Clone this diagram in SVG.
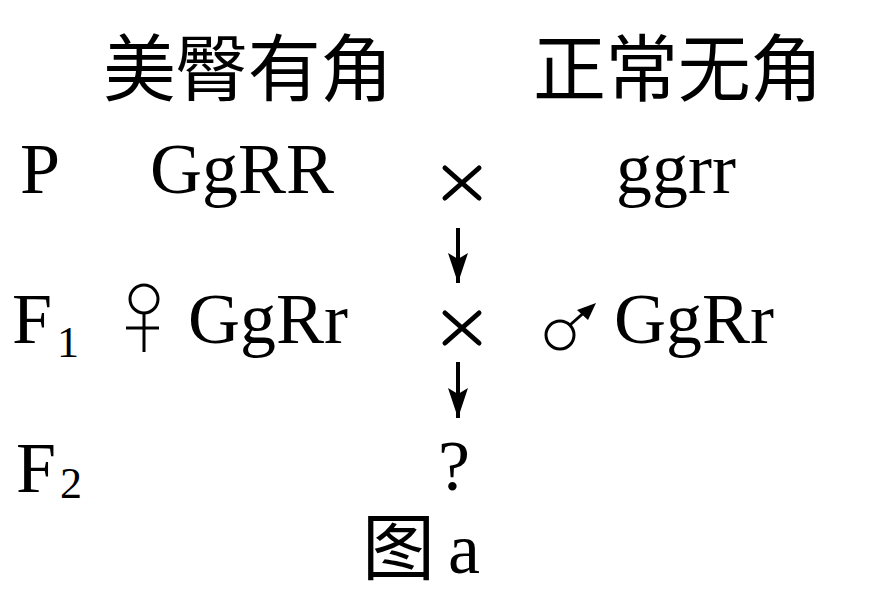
<svg xmlns="http://www.w3.org/2000/svg" width="872" height="590" viewBox="0 0 872 590">
<style>
.t{font-family:"Liberation Serif","Times New Roman",serif;font-size:72px;fill:#000}
.c{font-family:"Liberation Serif","Noto Sans CJK SC",serif;font-size:73px;fill:#000}
.s{font-family:"Liberation Serif",serif;font-size:44px;fill:#000}
.ln{stroke:#000;stroke-width:3;fill:none}
.sh{stroke:#000;stroke-width:4;fill:none}
.x{stroke:#000;stroke-width:5;fill:none;stroke-linecap:round}
</style>
<defs>
<marker id="ah" markerWidth="30" markerHeight="20" refX="30" refY="10" orient="auto" markerUnits="userSpaceOnUse" viewBox="0 0 30 20">
<path d="M0,0 L30,10 L0,20 L6,10 Z" fill="#000"/>
</marker>
</defs>
<rect width="872" height="590" fill="#fff"/>
<g id="title-left"><text class="c" x="103" y="95" textLength="290">美臀有角</text></g>
<g id="title-right"><text class="c" x="533" y="95" textLength="290">正常无角</text></g>
<g id="row-p">
<text class="t" x="20" y="193">P</text>
<text class="t" x="150" y="193">GgRR</text>
<text class="t" x="616" y="193">ggrr</text>
</g>
<g id="cross-1"><path class="x" d="M445,168 L479,198 M479,168 L445,198"/></g>
<g id="row-f1">
<text class="t" x="12" y="343">F</text><text class="s" x="57" y="357">1</text>
<g id="female"><circle class="ln" cx="144" cy="299" r="14"/><path class="ln" d="M144,313 V352 M126,328 H159"/></g>
<text class="t" x="188" y="343">GgRr</text>
<g id="male"><circle class="ln" cx="560" cy="335" r="14"/><path class="ln" d="M570,325 L588,309"/><path d="M596,303 L577,310 L588,320 Z" fill="#000"/></g>
<text class="t" x="614" y="343">GgRr</text>
</g>
<g id="cross-2"><path class="x" d="M445,313 L479,343 M479,313 L445,343"/></g>
<g id="row-f2">
<text class="t" x="16" y="492">F</text><text class="s" x="60" y="498">2</text>
<text class="t" x="438" y="490">?</text>
</g>
<g id="caption"><text class="c" x="362" y="574">图</text><text class="t" x="448" y="573">a</text></g>
<g id="connectors">
<path class="sh" d="M458,228 V283" marker-end="url(#ah)"/>
<path class="sh" d="M458,362 V418" marker-end="url(#ah)"/>
</g>
</svg>
